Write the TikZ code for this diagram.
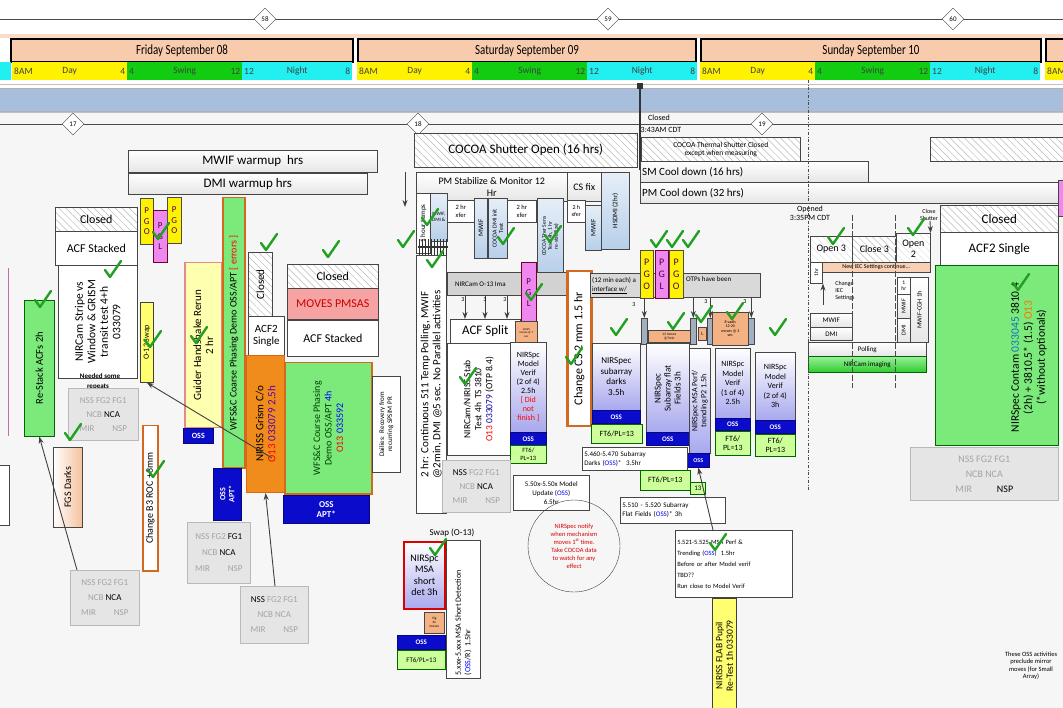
\documentclass[tikz,border=0pt]{standalone}
\usepackage{fontspec}
\setmainfont{Carlito}
\usetikzlibrary{patterns.meta,arrows.meta,shapes.geometric}
\definecolor{salmon}{HTML}{F8CBAD}
\definecolor{swG}{HTML}{11CC11}
\definecolor{niC}{HTML}{22F0F0}
\definecolor{band}{HTML}{A7BFDC}
\definecolor{lgr}{HTML}{7BEA7B}
\definecolor{org}{HTML}{F08C1C}
\definecolor{orgB}{HTML}{D2691E}
\definecolor{ossB}{HTML}{0B0BCC}
\definecolor{ftG}{HTML}{CCFF99}
\definecolor{lav}{HTML}{A8A8EE}
\definecolor{lblu}{HTML}{B7CFEA}
\definecolor{gtxt}{HTML}{A3A3A3}
\definecolor{pinkb}{HTML}{F5A3A3}
\definecolor{pinkB}{HTML}{E28A8A}
\definecolor{mag}{HTML}{EE88EE}
\definecolor{ylw}{HTML}{FFFF70}
\definecolor{peach}{HTML}{F4B183}
\definecolor{chkG}{HTML}{22A022}
\definecolor{ncgT}{HTML}{9AF09A}
\definecolor{ncgB}{HTML}{2ECC2E}
\newcommand\fz[2]{\fontsize{#1}{#2}\selectfont}
\newcommand\tb[8]{\node[#6,minimum width=#4pt,minimum height=#5pt,font=#7] (#1) at (#2,#3) {#8};}
\newcommand\rb[8]{\node[#6,minimum width=#4pt,minimum height=#5pt] (#1) at (#2,#3) {};
  \node[rotate=90,align=center,inner sep=0pt,font=#7] (#1t) at (#1.center) {#8};}
\newcommand\chk[2]{\draw[chkG,line width=2.4pt,line cap=round,line join=round] ({#1-7},{#2}) -- ({#1-2},{#2+7}) -- ({#1+9},{#2-9});}
\newcommand\gtx[1]{{\color{gtxt}#1}}
\newcommand\shifts[2]{%
 \node[shy] (#2y) at (#1,62) {};
 \node[shg] (#2g) at ({#1+115},62) {};
 \node[shc] (#2c) at ({#1+230},62) {};
 \node[stx,anchor=west] (#2y1) at (#2y.west) {8AM};
 \node[stx] (#2y2) at (#2y.center) {Day};
 \node[stx,anchor=east] (#2y3) at (#2y.east) {4};
 \node[stx,anchor=west] (#2g1) at (#2g.west) {4};
 \node[stx] (#2g2) at (#2g.center) {Swing};
 \node[stx,anchor=east] (#2g3) at (#2g.east) {12};
 \node[stx,anchor=west] (#2c1) at (#2c.west) {12};
 \node[stx] (#2c2) at (#2c.center) {Night};
 \node[stx,anchor=east] (#2c3) at (#2c.east) {8};}
\begin{document}
\begin{tikzpicture}[x=1pt,y=-1pt,
  bx/.style={anchor=north west,draw=gray!55!black,line width=.6pt,inner sep=1pt,align=center},
  wht/.style={bx,fill=white},
  grd/.style={bx,top color=white,bottom color=gray!20},
  htch/.style={bx,preaction={fill=white},pattern={Lines[angle=-45,distance=5pt,line width=.5pt]},pattern color=gray!55},
  lhtch/.style={bx,preaction={fill=white},pattern={Lines[angle=-45,distance=5pt,line width=.5pt]},pattern color=gray!22},
  lavb/.style={bx,top color=white,bottom color=lav},
  lblb/.style={bx,top color=lblu!35,bottom color=lblu},
  ossb/.style={bx,fill=ossB,draw=ossB!60!black,text=white},
  ftb/.style={bx,fill=ftG,draw=green!40!black},
  gbx/.style={bx,fill=gray!20,draw=gray!55},
  ylb/.style={bx,fill=ylw,draw=gray!50!black},
  pgy/.style={bx,fill=yellow,draw=black!70,inner sep=0pt,text=violet!60!black},
  pgm/.style={bx,fill=mag,draw=purple!60!black,inner sep=0pt,text=violet!60!black},
  tx/.style={align=center,inner sep=1pt},
  dia/.style={diamond,draw=gray!50!black,fill=white,minimum width=22pt,minimum height=22pt,inner sep=0pt,font=\fz{7}{8}},
  dayb/.style={anchor=north west,fill=salmon,draw=black,line width=2pt,minimum height=23pt,inner sep=0pt,font=\fz{14}{15}},
  shy/.style={anchor=north west,fill=yellow,minimum width=115pt,minimum height=18pt,inner sep=0pt},
  shg/.style={anchor=north west,fill=swG,minimum width=115pt,minimum height=18pt,inner sep=0pt},
  shc/.style={anchor=north west,fill=niC,minimum width=110pt,minimum height=18pt,inner sep=0pt},
  stx/.style={font=\fz{9.5}{10},text=black!75,inner sep=2pt},
  arr/.style={-{Stealth[length=7pt,width=5pt]},black!75,line width=.9pt}]
\useasboundingbox (0,0) rectangle (1063,708);
\fill[white] (0,0) rectangle (1063,708);
\fill[gray!7] (0,112) rectangle (1063,708);
% ---------- header ----------
\draw[gray!60!black,line width=.5pt] (0,19) -- (1063,19);
\node[dia] (d58) at (265,19) {58};
\node[dia] (d59) at (608,19) {59};
\node[dia] (d60) at (953,19) {60};
\fill[salmon!70] (0,34) rectangle (1063,38);
\node[dayb,minimum width=342pt] (fri) at (10,38) {\scalebox{.78}[1]{Friday September 08}};
\node[dayb,minimum width=338pt] (sat) at (357,38) {\scalebox{.78}[1]{Saturday September 09}};
\node[dayb,minimum width=340pt] (sun) at (700,38) {\scalebox{.78}[1]{Sunday September 10}};
\node[dayb,minimum width=40pt] (mon) at (1045,38) {};
\node[shc,minimum width=11pt] (c0) at (0,62) {};
\shifts{12}{f}
\shifts{357}{s}
\shifts{700}{u}
\node[shy,minimum width=25pt] (y4) at (1045,62) {};
\node[stx,anchor=west] (y4t) at (y4.west) {8AM};
\draw[gray!50] (0,84) -- (1063,84);
\node[anchor=north west,fill=band,draw=gray!60,minimum width=1070pt,minimum height=23pt] (band) at (-3,88) {};
\draw[gray!50] (0,112) -- (1063,112);
\draw[gray!60!black,line width=.5pt] (0,124) -- (1063,124);
\node[dia] (d17) at (73,124) {17};
\node[dia] (d18) at (418,124) {18};
\node[dia] (d19) at (762,124) {19};
\coordinate (m1) at (640,86);
\coordinate (m1b) at (640,170);
\draw[black!80,line width=1.2pt] (m1) -- (m1b);
\fill[black!80] (637,83) rectangle (643,89);
\node[tx,font=\fz{8}{9}] (cl343) at (659,118) {Closed};
\node[tx,font=\fz{8}{9}] (t343) at (661,130) {3:43AM CDT};
% ---------- upper bars ----------
\tb{coc}{414}{133}{223}{34}{htch}{\fz{13}{14}}{COCOA Shutter Open (16 hrs)}
\tb{cth}{641}{137}{159}{24}{htch}{\fz{7.5}{8.5}}{COCOA Thermal Shutter Closed\\except when measuring}
\tb{hre}{930}{137}{140}{24}{htch}{\fz{8}{9}}{}
\tb{mwif}{128}{150}{249}{22}{grd}{\fz{13}{14}}{MWIF warmup\ \ hrs}
\tb{dmi}{128}{173}{239}{21}{grd}{\fz{13}{14}}{DMI warmup hrs}
\tb{smc}{640}{161}{228}{21}{grd}{\fz{11}{12}}{}
\tb{pmc}{640}{182}{430}{21}{grd}{\fz{11}{12}}{}
\node[tx,anchor=west,font=\fz{11}{12}] (smct) at ([xshift=1pt]smc.west) {SM Cool down (16 hrs)};
\node[tx,anchor=west,font=\fz{11}{12}] (pmct) at ([xshift=1pt]pmc.west) {PM Cool down (32 hrs)};
\tb{pms}{416}{172}{151}{29}{grd}{\fz{10}{12}}{PM Stabilize \& Monitor 12\\Hr}
\tb{csf}{567}{172}{34}{29}{grd}{\fz{10}{11}}{CS fix}
\node[bx,fill=mag,minimum width=10pt,minimum height=36pt] (magr) at (1058,180) {};
% ---------- left area ----------
\tb{cl1}{55}{207}{82}{24}{htch}{\fz{12}{13}}{Closed}
\tb{acf1}{55}{231}{82}{34}{wht}{\fz{12}{13}}{ACF Stacked}
\rb{nrc}{58}{265}{79}{113}{wht}{\fz{11.5}{12.5}}{NIRCam Stripe vs\\Window \& GRISM\\transit test 4+h\\033079}
\node[tx,font=\bfseries\fz{7}{8}] (need1) at (100,376) {Needed some};
\node[tx,font=\bfseries\fz{7}{8}] (need2) at (98,387) {repeats};
\node[bx,fill=white,minimum width=12pt,minimum height=60pt] (edge) at (-3,465) {};
\draw[mag!80!black,line width=1pt] (8,268) -- (8,436);
\rb{rst}{24}{300}{30}{136}{bx,fill=lgr,draw=green!40!black}{\fz{10.5}{11}}{Re-Stack ACFs 2h}
\tb{pg1}{140}{198}{13}{46}{pgy}{\fz{9}{10.5}}{P\\G\\O}
\tb{pg2}{153}{210}{14}{52}{pgm}{\fz{9}{10.5}}{P\\G\\L}
\tb{pg3}{167}{197}{14}{46}{pgy}{\fz{9}{10.5}}{P\\G\\O}
\rb{o13}{140}{302}{13}{80}{ylb}{\fz{8}{9}}{O-13 Swap}
\rb{ghr}{184}{262}{37}{165}{bx,fill=ylw!55,draw=pinkB,line width=1.5pt}{\fz{11}{12}}{Guider Handshake Rerun\\2 hr}
\tb{oss1}{183}{428}{30}{15}{ossb}{\bfseries\fz{8}{9}}{OSS}
\rb{wfs1}{222}{197}{22}{270}{bx,fill=lgr,draw=orgB,line width=1.5pt}{\fz{10}{11}}{WFS\&C Coarse Phasing Demo OSS/APT {\color{red}[ errors ]}}
\rb{apt1}{213}{468}{28}{52}{ossb}{\bfseries\fz{8}{9}\color{white}}{OSS\\APT*}
\rb{cl2}{248}{252}{24}{64}{htch}{\fz{11}{12}}{Closed}
\tb{acf2a}{248}{316}{36}{39}{wht}{\fz{11}{12}}{ACF2\\Single}
\rb{gri}{246}{355}{38}{137}{bx,fill=org,draw=orgB,line width=1pt}{\fz{11}{12}}{NIRISS Grism C/o\\{\color{red}O13} {\color{violet!70!blue}033079 2.5h}}
\tb{cl3}{287}{264}{91}{24}{htch}{\fz{12}{13}}{Closed}
\tb{mov}{287}{288}{91}{31}{bx,fill=pinkb}{\fz{12}{13}\color{red!80!black}}{MOVES PMSAS}
\tb{acf3}{287}{320}{91}{36}{wht}{\fz{12}{13}}{ACF Stacked}
\rb{wfs2}{284}{362}{87}{131}{bx,fill=lgr,draw=orgB,line width=1.5pt}{\fz{10}{11.5}\color{green!25!black}}{WFS\&C Course Phasing\\Demo OSS/APT {\color{blue}4h}\\{\color{red}O13} {\color{blue}033592}}
\rb{dai}{372}{376}{28}{96}{wht}{\fz{7}{8}}{Dailies:\ \ Recovery from\\recurring SPSIM PR}
\tb{apt2}{283}{495}{86}{28}{ossb}{\bfseries\fz{9}{10}}{OSS\\APT*}
\tb{gb1}{68}{388}{70}{52}{gbx}{\fz{9}{14}}{\gtx{NSS FG2 FG1}\\\gtx{NCB} NCA\\\gtx{MIR\hspace{2em}NSP}}
\rb{fgs}{53}{447}{29}{80}{bx,left color=white,right color=peach!80}{\fz{10}{11}}{FGS Darks}
\rb{chb}{142}{425}{15}{145}{bx,fill=white,draw=orgB,line width=1.5pt}{\fz{10}{11}}{Change B3 ROC +3mm}
\tb{gb2}{187}{522}{63}{61}{gbx}{\fz{9}{16}}{\gtx{NSS FG2} FG1\\\gtx{NCB} NCA\\\gtx{MIR\hspace{2em}NSP}}
\tb{gb3}{70}{570}{69}{55}{gbx}{\fz{9}{15}}{\gtx{NSS FG2 FG1}\\\gtx{NCB} NCA\\\gtx{MIR\hspace{2em}NSP}}
\tb{gb4}{240}{586}{68}{57}{gbx}{\fz{9}{15}}{NSS \gtx{FG2 FG1}\\\gtx{NCB NCA}\\\gtx{MIR\hspace{2em}NSP}}
% ---------- middle area ----------
\rb{tmp}{416}{193}{14}{60}{wht}{\fz{7}{8}}{1 hour temps}
\tb{md}{430}{193}{17}{48}{lblb,inner sep=0pt}{\fz{5}{6}}{MWIF,\\DMI \&}
\foreach \i in {0,...,9} \draw[black!80,line width=1pt] ({419+\i*3},239) -- ++(0,17);
\draw[black!80,line width=2pt] (418,247) -- (448,247);
\rb{poll}{416}{255}{30}{258}{wht}{\fz{11}{12}}{2 hr: Continuous 511 Temp Polling, MWIF\\@2min, DMI @5 sec. No Parallel activities}
\tb{xf1}{447}{200}{27}{22}{wht}{\fz{6.5}{7.5}}{2 hr\\xfer}
\rb{mw2}{474}{198}{13}{60}{lblb}{\fz{7}{8}}{MWIF}
\rb{cdi}{488}{198}{19}{60}{lblb}{\fz{6}{6.5}}{COCOA DMI init\\Test}
\tb{xf2}{507}{200}{29}{22}{wht}{\fz{6.5}{7.5}}{2 hr\\xfer}
\rb{cts}{537}{198}{26}{76}{lblb}{\fz{5.5}{6}}{COCOA Ther Sens\\Test (4h, 1 hr\\re-stabilize)}
\tb{xf3}{567}{200}{18}{22}{wht,inner sep=0pt}{\fz{6}{7}}{2 h\\xfer}
\rb{mw3}{585}{205}{16}{45}{lblb}{\fz{7}{8}}{MWIF}
\rb{hsd}{601}{172}{28}{77}{lblb}{\fz{7}{8}}{HSDMI (2hr)}
\tb{nco}{447}{272}{140}{23}{bx,fill=gray!35}{\fz{7}{8}}{}
\node[tx,anchor=west,font=\fz{7}{8}] (ncot) at ([xshift=7pt]nco.west) {NIRCam O-13 Ima};
\tb{acs}{450}{319}{70}{24}{wht}{\fz{13}{14}}{ACF Split}
\tb{pgl2}{521}{262}{15}{60}{pgm}{\fz{9}{11}}{P\\G\\L}
\tb{orm}{515}{321}{22}{23}{bx,fill=peach,inner sep=0pt}{\fz{3}{3.5}}{12x25\\moves @ 7\\sec}
\rb{stab}{447}{343}{63}{112}{wht}{\fz{9.5}{11}}{NIRCam/NIRISS Stab\\Test 4h\ \ TS 3810\\{\color{red}O13} {\color{blue!60!black}033079} (OTP 8.4)}
\tb{mv2}{510}{342}{36}{90}{lavb}{\fz{8}{9}}{NIRSpc\\Model\\Verif\\(2 of 4)\\2.5h\\{\color{red}[ Did}\\{\color{red}not}\\{\color{red}finish ]}}
\tb{oss2}{510}{432}{36}{13}{ossb}{\bfseries\fz{7}{8}}{OSS}
\tb{ft2}{510}{445}{36}{18}{ftb}{\fz{6.5}{7.5}}{FT6/\\PL=13}
\tb{gb5}{442}{460}{68}{52}{gbx}{\fz{9}{14}}{NSS \gtx{FG2 FG1}\\\gtx{NCB} NCA\\\gtx{MIR\hspace{2em}NSP}}
\tb{mup}{513}{475}{76}{35}{wht}{\fz{7}{9}}{5.50x-5.50x Model\\Update ({\color{blue}OSS})\\6.5hr}
\rb{ccs}{566}{270}{24}{155}{bx,fill=white,draw=orgB,line width=2.5pt}{\fz{12}{13}}{Change CS 2 mm 1.5 hr}
\tb{otp}{590}{273}{170}{24}{bx,fill=gray!30}{\fz{7}{9}}{}
\node[tx,anchor=west,align=left,font=\fz{7}{9}] (otpl) at ([xshift=1pt]otp.west) {(12 min each) a\\\underline{interface w/}};
\node[tx,anchor=west,align=left,font=\fz{7}{9}] (otpr) at (685,279) {OTPs have been};
\tb{pg4}{640}{250}{13}{48}{pgy}{\fz{10}{12}}{P\\G\\O}
\tb{pg5}{655}{250}{13}{48}{pgm}{\fz{10}{12}}{P\\G\\L}
\tb{pg6}{669}{250}{14}{48}{pgy}{\fz{10}{12}}{P\\G\\O}
\tb{p1}{641}{318}{6}{26}{bx,fill=lblu!60!gray}{}{}
\tb{p2}{690}{318}{6}{26}{bx,fill=lblu!60!gray}{}{}
\tb{p3}{707}{318}{6}{26}{bx,fill=lblu!60!gray}{}{}
\tb{p4}{748}{318}{6}{26}{bx,fill=lblu!60!gray}{}{}
\tb{sd}{592}{343}{48}{67}{lavb}{\fz{9}{10.5}}{NIRSpec\\subarray\\darks\\3.5h}
\tb{oss3}{592}{410}{48}{13}{ossb}{\bfseries\fz{7}{8}}{OSS}
\tb{ft3}{591}{424}{51}{19}{ftb}{\fz{8}{9}}{FT6/PL=13}
\tb{orm2}{648}{330}{42}{12}{bx,fill=peach,inner sep=0pt}{\fz{3.5}{4}}{12 moves\\@7min}
\tb{lsm}{698}{327}{8}{13}{bx,fill=peach,inner sep=0pt}{\fz{5}{6}}{L}
\rb{sff}{646}{343}{43}{90}{lavb}{\fz{9}{10}}{NIRSpec\\Subarray flat\\Fields 3h}
\tb{oss4}{646}{432}{43}{13}{ossb}{\bfseries\fz{7}{8}}{OSS}
\rb{msa}{689}{348}{21}{105}{lavb}{\fz{8}{9}}{NIRSpec MSA Perf/\\trending P2 1.5h}
\tb{oss5}{687}{453}{22}{14}{ossb}{\bfseries\fz{6}{7}}{OSS}
\tb{sdk}{582}{447}{105}{23}{wht,align=left,text width=101pt}{\fz{7}{9}}{5.460-5.470 Subarray\\Darks ({\color{blue}OSS})*\ \ 3.5hr}
\tb{ft4}{640}{470}{50}{20}{ftb}{\fz{8}{9}}{FT6/PL=13}
\tb{ft5}{690}{482}{15}{12}{ftb}{\fz{7}{8}}{13}
\tb{sff2}{620}{497}{105}{26}{wht,align=left,text width=101pt}{\fz{7}{9}}{5.510 - 5.520 Subarray\\Flat Fields ({\color{blue}OSS})* 3h}
\tb{orm3}{712}{312}{36}{33}{bx,fill=peach,inner sep=0pt}{\fz{4}{4.5}}{8 vadls\\12-20\\moves @ 3\\sec}
\tb{mv1}{715}{348}{35}{70}{lavb}{\fz{8}{9.5}}{NIRSpc\\Model\\Verif\\(1 of 4)\\2.5h}
\tb{oss6}{715}{418}{35}{12}{ossb}{\bfseries\fz{7}{8}}{OSS}
\tb{ft6}{715}{431}{35}{24}{ftb}{\fz{8}{9}}{FT6/\\PL=13}
\tb{mv3}{755}{352}{40}{68}{lavb}{\fz{8}{9.5}}{NIRSpc\\Model\\Verif\\(2 of 4)\\3h}
\tb{oss7}{755}{420}{40}{13}{ossb}{\bfseries\fz{7}{8}}{OSS}
\tb{ft7}{755}{434}{40}{22}{ftb}{\fz{8}{9}}{FT6/\\PL=13}
% ---------- right area ----------
\node[tx,font=\fz{8}{9}] (opn) at (810,213) {Opened\\3:35PM CDT};
\tb{op3}{810}{236}{42}{26}{lhtch}{\fz{10}{11}}{Open 3}
\tb{cl4}{852}{236}{44}{26}{htch}{\fz{10}{11}}{Close 3}
\tb{op2}{896}{233}{34}{30}{lhtch}{\fz{10}{11}}{Open\\2}
\node[tx,font=\fz{6}{6.5}] (csh) at (929,215) {Close\\Shutter};
\rb{h1}{810}{262}{12}{21}{wht}{\fz{5.5}{6}}{1hr}
\tb{iec}{822}{262}{108}{10}{bx,fill=peach!60,inner sep=0pt}{\fz{6}{7}}{New IEC Settings continue...}
\node[tx,align=left,font=\fz{6}{7}] (ciec) at (845,291) {Change\\IEC\\Settings};
\tb{mw4}{810}{313}{42}{14}{grd}{\fz{7}{8}}{MWIF}
\tb{dm4}{810}{327}{42}{13}{grd}{\fz{7}{8}}{DMI}
\tb{h2}{897}{277}{13}{17}{wht,inner sep=0pt}{\fz{5.5}{6}}{1\\hr}
\rb{mw5}{897}{294}{13}{24}{grd}{\fz{6}{7}}{MWIF}
\rb{dm5}{897}{318}{13}{24}{grd}{\fz{6}{7}}{DMI}
\rb{mcg}{910}{277}{18}{65}{grd}{\fz{6.5}{7}}{MWIF-CGH 1h}
\tb{pol}{808}{342}{118}{14}{grd}{\fz{7}{8}}{Polling}
\tb{nci}{808}{356}{118}{16}{bx,top color=ncgT,bottom color=ncgB,draw=green!40!black}{\fz{7}{8}}{NIRCam imaging}
\tb{cl5}{940}{205}{118}{27}{htch}{\fz{13}{14}}{Closed}
\tb{acf4}{940}{232}{118}{33}{wht}{\fz{13}{14}}{ACF2 Single}
\node[bx,fill=lgr,draw=green!40!black,minimum width=123pt,minimum height=180pt] (con) at (935,265) {};
\node[rotate=90,align=center,inner sep=0pt,font=\fz{11.5}{13}] (cont) at ([xshift=32pt,yshift=-2pt]con.center) {NIRSpec Contam {\color{cyan!50!blue}033045} 3810.4\\(2h) + 3810.5* (1.5) {\color{orange!90!red}O13}\\(*without optionals)};
\tb{gb6}{910}{447}{148}{53}{gbx}{\fz{10}{15}}{\gtx{NSS FG2 FG1}\\\gtx{NCB NCA}\\\gtx{MIR}\hspace{2.5em}NSP}
% ---------- bottom area ----------
\node[tx,font=\fz{9}{10}] (swp) at (452,533) {Swap (O-13)};
\tb{msd}{403}{541}{41}{67}{lavb,draw=red!85!black,line width=2pt}{\fz{10}{11.5}}{NIRSpc\\MSA\\short\\det 3h}
\tb{vig}{424}{612}{20}{21}{bx,fill=peach,inner sep=0pt}{\fz{3.5}{4}}{Vig\\4x\\moves}
\tb{oss8}{397}{635}{48}{14}{ossb}{\bfseries\fz{7}{8}}{OSS}
\tb{ft8}{397}{650}{48}{19}{ftb}{\fz{7}{8}}{FT6/PL=13}
\node[bx,fill=white,minimum width=34pt,minimum height=138pt] (msdr) at (446,540) {};
\node[rotate=90,anchor=west,align=left,inner sep=0pt,font=\fz{8}{9.5}] (msdrt) at ([yshift=3pt]msdr.south) {5.xxx-5.xxx MSA Short Detection\\({\color{blue}OSS}/R)\ \ 1.5hr};
\node[circle,draw=gray!50!black,minimum size=92pt,inner sep=0pt,align=center,font=\fz{6.5}{8}\color{red!85!black}] (cir) at (574,546) {NIRSpec notify\\when mechanism\\moves 1\textsuperscript{st} time.\\Take COCOA data\\to watch for any\\effect};
\tb{b5521}{675}{530}{117}{67}{wht,align=left,text width=113pt}{\fz{6.5}{11}}{5.521-5.525 MSA Perf \&\\Trending ({\color{blue}OSS})\ \ 1.5hr\\Before or after Model verif\\TBD??\\Run close to Model Verif}
\rb{flab}{712}{598}{24}{115}{ylb}{\fz{9.5}{10.5}}{NIRISS FLAB Pupil\\Re-Test 1h 033079}
\node[tx,font=\fz{6.5}{7.5}] (note) at (1031,666) {These OSS activities\\preclude mirror\\moves (for Small\\Array)};
% ---------- dashed markers ----------
\draw[dash dot,black!70,line width=.6pt] (808,80) -- (808,490);
\draw[black!70,dash pattern=on 6pt off 2pt,line width=.5pt] (852,215) -- (852,388);
\draw[black!70,dash pattern=on 6pt off 2pt,line width=.5pt] (895,215) -- (895,388);
% ---------- arrows ----------
\draw[arr] ([xshift=7pt]gb3.north west) -- (rst.south);
\draw[arr] ([xshift=35pt]gb4.north west) -- (gri.south);
\coordinate (gq) at (272,458);
\draw[arr] (gq) -- (o13.south);
\draw[arr] ([xshift=38pt]b5521.north west) -- (oss5.south);
\coordinate (ta) at (405,172);
\coordinate (tb) at (405,207);
\draw[arr] (ta) -- (tb);
\coordinate (csa) at (930,221);
\draw[arr] (csa) -- (op2.north east);
\coordinate (ia) at (823,305);
\draw[arr] (ia) -- (ia |- h1.south);
\coordinate (na1) at (465,295);
\coordinate (na2) at (485,295);
\coordinate (na3) at (507,295);
\foreach \c in {na1,na2,na3} \draw[arr] (\c) -- (\c |- acs.north);
\foreach \p in {p1,p2,p3,p4} \draw[arr] (\p.north |- otp.south) -- (\p.north);
\foreach \lx/\ly [count=\k] in {463/300,485/300,505/300,634/305,706/302,745/302}
  \node[tx,font=\fz{6}{7}] (three\k) at (\lx,\ly) {3};
% ---------- check marks ----------
\foreach \cx/\cy in {42/300,112/270,160/232,198/336,268/243,330/250,152/340,72/433,155/470,
  429/218,405/240,434/260,505/237,552/235,533/293,658/240,674/240,690/240,618/328,675/322,
  703/315,734/312,777/328,573/357,467/377,835/237,915/228,1020/283,437/548,717/543}
  {\chk{\cx}{\cy}}
\end{tikzpicture}
\end{document}
